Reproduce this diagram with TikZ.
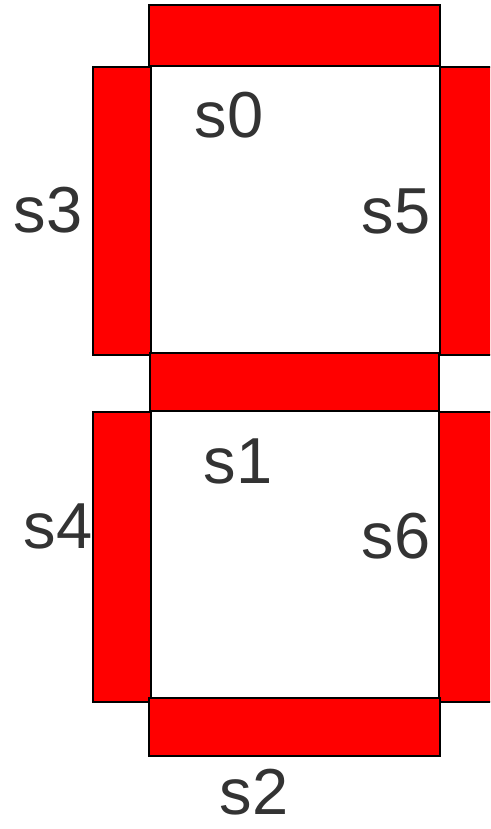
\documentclass[tikz,border=0pt]{standalone}
\usepackage{fontspec}
\setmainfont{Liberation Sans}
\definecolor{segred}{RGB}{255,0,0}
\definecolor{labgray}{RGB}{51,51,51}
\begin{document}
\begin{tikzpicture}[x=1pt,y=-1pt,
  seg/.style={fill=segred,draw=black,line width=2pt},
  lab/.style={text=labgray,font=\fontsize{65}{78}\selectfont,inner sep=0pt,anchor=base}]
\useasboundingbox (0,0) rectangle (490,829);
\fill[white] (0,0) rectangle (490,829);
\begin{scope}
\clip (0,0) rectangle (490,829);
\draw[seg] (149,5) rectangle (440,66);
\draw[seg] (93,67) rectangle (151,355);
\draw[seg] (440,67) rectangle (500,355);
\draw[seg] (150,353) rectangle (439,411);
\draw[seg] (93,412) rectangle (151,702);
\draw[seg] (439,412) rectangle (500,702);
\draw[seg] (149,698) rectangle (440,756);
\end{scope}
\node[lab] (l0) at (229,138) {s0};
\node[lab] (l3) at (48,232) {s3};
\node[lab] (l5) at (396,233) {s5};
\node[lab] (l1) at (238,483) {s1};
\node[lab] (l4) at (58,548) {s4};
\node[lab] (l6) at (396,558) {s6};
\node[lab] (l2) at (254,814) {s2};
\end{tikzpicture}
\end{document}
